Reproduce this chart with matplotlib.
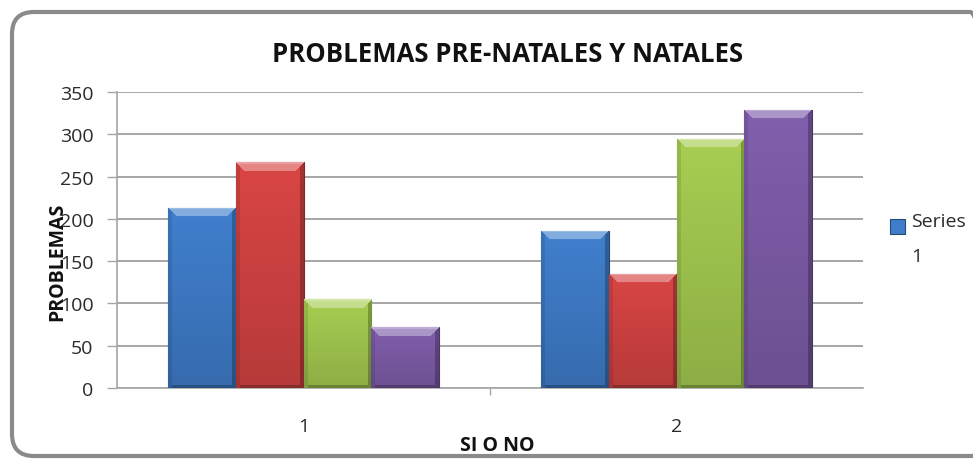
import numpy as np
import matplotlib
matplotlib.use("Agg")
import matplotlib.pyplot as plt
from matplotlib.colors import to_rgb
from matplotlib.patches import FancyBboxPatch, Rectangle
from matplotlib.legend_handler import HandlerPatch
from matplotlib.transforms import IdentityTransform

# ---- data ----
categories = ["1", "2"]
serie_azul = [213, 186]
serie_roja = [267, 135]
serie_verde = [105, 295]
serie_morada = [72, 329]
series_colors = ["#3F7DCA", "#D44443", "#A4CA50", "#7E5DA9"]
y_ticks = [0, 50, 100, 150, 200, 250, 300, 350]
title = "PROBLEMAS PRE-NATALES Y NATALES"
x_label = "SI O NO"
y_label = "PROBLEMAS"
legend_label = "Series\n1"

FONT = ["Open Sans", "DejaVu Sans"]
plt.rcParams["font.family"] = FONT

W, H = 973, 460
fig = plt.figure(figsize=(W / 100, H / 100), dpi=100)
fig.patch.set_facecolor("white")

# rounded chart border (in pixel coords, runs off the right edge)
border = FancyBboxPatch((12, 3), 980, 444,
                        boxstyle="round,pad=0,rounding_size=22",
                        transform=IdentityTransform(), facecolor="none",
                        edgecolor="#8A8A8A", linewidth=3.0, zorder=-1)
fig.patches.append(border)

ax = fig.add_axes([117 / W, 1 - 389 / H, 746 / W, 296 / H])
ax.set_facecolor("none")
ax.set_xlim(-0.5, len(categories) - 0.5)
ax.set_ylim(0, 350)

x = np.arange(len(categories))
all_series = [serie_azul, serie_roja, serie_verde, serie_morada]
n = len(all_series)
bw = 0.1818
containers = []
for i, (vals, col) in enumerate(zip(all_series, series_colors)):
    c = ax.bar(x + (i - (n - 1) / 2) * bw, vals, width=bw, color=col,
               edgecolor=tuple(np.array(to_rgb(col)) * 0.6), linewidth=0.8,
               zorder=3)
    containers.append(c)


def bevel_image(color, wpx, hpx):
    c = np.array(to_rgb(color))
    yy, xx = np.mgrid[0:hpx, 0:wpx].astype(float)
    f = 1.02 - 0.16 * (yy / max(hpx - 1, 1))
    img = c[None, None, :] * f[..., None]
    b = 9
    dl, dr, dt, db = xx, wpx - 1 - xx, yy, hpx - 1 - yy
    top = (dt < b) & (dt <= dl) & (dt <= dr)
    left = (dl < 4) & ~top
    right = (dr < 4) & ~top
    bottom = (db < 3) & ~left & ~right
    img[top] = img[top] * 0.65 + 0.35
    img[top & (dt < 2)] = img[top & (dt < 2)] * 0.8 + 0.2
    img[left] = img[left] * 0.9
    img[right] = img[right] * 0.75
    img[bottom] = img[bottom] * 0.75
    return np.clip(img, 0, 1)


fig.canvas.draw()
for cont, col in zip(containers, series_colors):
    for p in cont.patches:
        x0, y0 = p.get_x(), p.get_y()
        x1, y1 = x0 + p.get_width(), y0 + p.get_height()
        (px0, py0), (px1, py1) = ax.transData.transform([(x0, y0), (x1, y1)])
        wpx, hpx = max(int(round(px1 - px0)), 2), max(int(round(py1 - py0)), 2)
        im = ax.imshow(bevel_image(col, wpx, hpx), extent=(x0, x1, y0, y1),
                       aspect="auto", interpolation="bilinear", zorder=3.5)
        im.set_clip_path(p)
ax.set_xlim(-0.5, len(categories) - 0.5)
ax.set_ylim(0, 350)

# grid & spines
ax.set_yticks(y_ticks)
ax.yaxis.grid(True, color="#A6A6A6", linewidth=1.4, zorder=1)
ax.set_axisbelow(True)
for s in ["top", "right"]:
    ax.spines[s].set_visible(False)
ax.spines["left"].set_color("#A6A6A6")
ax.spines["bottom"].set_color("#A6A6A6")
ax.spines["left"].set_linewidth(1.2)
ax.spines["bottom"].set_linewidth(1.2)

ax.tick_params(axis="y", length=7, width=1, color="#A6A6A6", pad=10,
               labelsize=14, labelcolor="#2A2A2A")
ax.set_xticks(x)
ax.set_xticklabels(categories)
ax.set_xticks(np.arange(len(categories) - 1) + 0.5, minor=True)
ax.tick_params(axis="x", which="major", length=0, pad=21, labelsize=14,
               labelcolor="#2A2A2A")
ax.tick_params(axis="x", which="minor", length=5, width=1, color="#A6A6A6")
for lab in ax.get_yticklabels() + ax.get_xticklabels():
    lab.set_family(FONT)

ax.set_title(title, fontsize=18.5, fontweight="bold", color="#111111",
             x=(508 - 117) / 746, y=1.0, pad=22)
ax.set_xlabel(x_label, fontsize=14, fontweight="bold", color="#111111")
ax.xaxis.set_label_coords((497 - 117) / 746, (389 - 436) / 296)
ax.set_ylabel(y_label, fontsize=14, fontweight="bold", color="#111111")
ax.yaxis.set_label_coords((67 - 117) / 746, (389 - 262) / 296)


def top_square(legend, orig_handle, xdescent, ydescent, width, height, fontsize):
    s = width
    return Rectangle((-xdescent, -ydescent + height - s), s, s)


leg = ax.legend([containers[0].patches[0]], [legend_label],
                handler_map={Rectangle: HandlerPatch(patch_func=top_square)},
                loc="upper left", bbox_to_anchor=(882 / W, 1 - 205 / H),
                bbox_transform=fig.transFigure, frameon=False,
                fontsize=14, handlelength=0.8, handleheight=2.9,
                handletextpad=0.3, borderaxespad=0)
for t in leg.get_texts():
    t.set_color("#2A2A2A")
    t.set_linespacing(2.2)

fig.savefig("out.png", dpi=100, facecolor="white")
